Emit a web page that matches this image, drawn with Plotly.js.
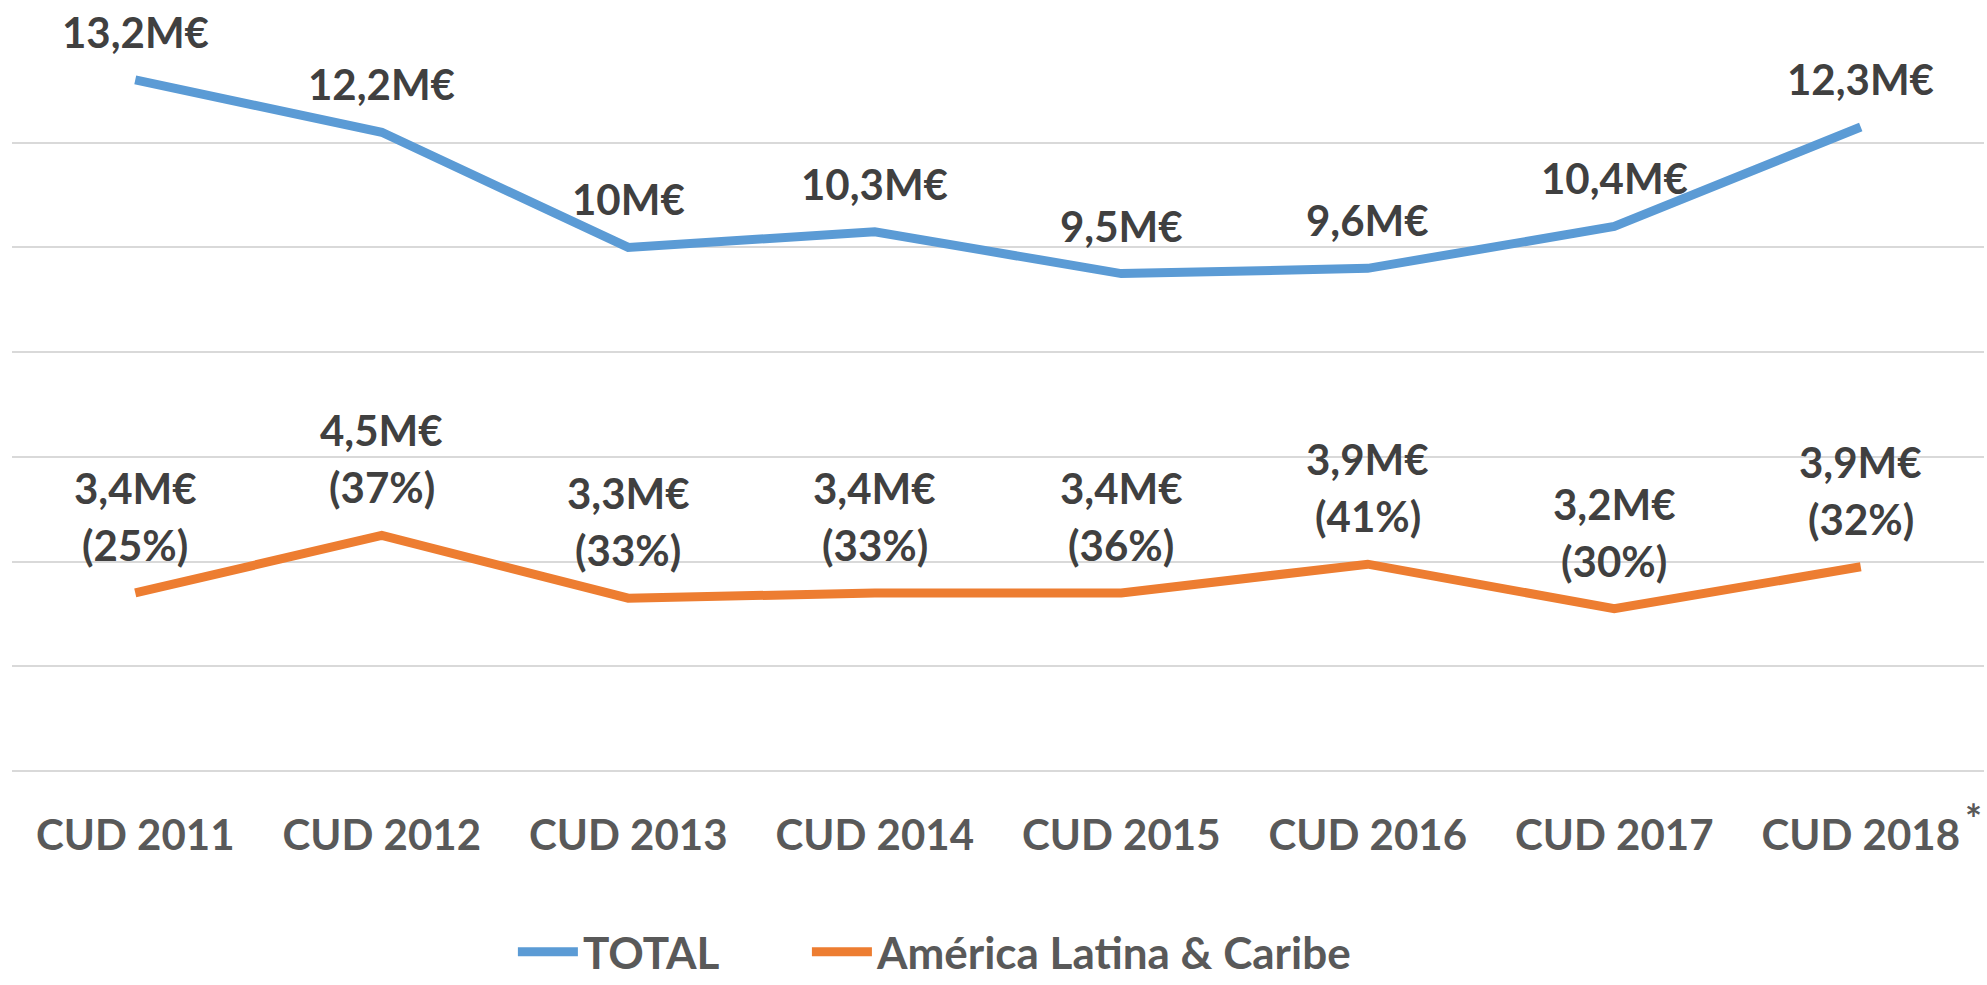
<!DOCTYPE html>
<html>
<head>
<meta charset="utf-8">
<script src="https://cdn.plot.ly/plotly-3.0.1.min.js"></script>
<style>
  html, body { margin: 0; padding: 0; background: #ffffff; }
  #chart { width: 1987px; height: 985px; }
</style>
</head>
<body>
<div id="chart"></div>
<script>
// ---- Data ----
const categories = ['CUD 2011', 'CUD 2012', 'CUD 2013', 'CUD 2014', 'CUD 2015', 'CUD 2016', 'CUD 2017', 'CUD 2018'];
const totalValues = [13.2, 12.2, 10.0, 10.3, 9.5, 9.6, 10.4, 12.3];
const latamValues = [3.4, 4.5, 3.3, 3.4, 3.4, 3.95, 3.1, 3.9];
const totalLabels = ['13,2M€', '12,2M€', '10M€', '10,3M€', '9,5M€', '9,6M€', '10,4M€', '12,3M€'];
const latamLabels = ['3,4M€', '4,5M€', '3,3M€', '3,4M€', '3,4M€', '3,9M€', '3,2M€', '3,9M€'];
const latamShares = ['(25%)', '(37%)', '(33%)', '(33%)', '(36%)', '(41%)', '(30%)', '(32%)'];
const seriesNames = ['TOTAL', 'América Latina & Caribe'];
const footnoteMark = '*';

const FONT = 'Lato, "Noto Sans", sans-serif';
const labelFont = { family: FONT, size: 42, color: '#404040', weight: 700 };
const legendFont = { family: FONT, size: 44, color: '#595959', weight: 700 };

const traces = [
  {
    x: categories, y: totalValues, name: seriesNames[0], type: 'scatter', mode: 'lines',
    line: { color: '#5B9BD5', width: 9 }, hoverinfo: 'skip', legend: 'legend'
  },
  {
    x: categories, y: latamValues, name: seriesNames[1], type: 'scatter', mode: 'lines',
    line: { color: '#ED7D31', width: 9 }, hoverinfo: 'skip', legend: 'legend2'
  }
];

const annotations = [];
categories.forEach((c, i) => {
  annotations.push({
    x: c, y: totalValues[i], xref: 'x', yref: 'y', text: totalLabels[i],
    showarrow: false, xanchor: 'center', yanchor: 'bottom', yshift: 21, font: labelFont
  });
  annotations.push({
    x: c, y: latamValues[i], xref: 'x', yref: 'y', text: latamShares[i],
    showarrow: false, xanchor: 'center', yanchor: 'bottom', yshift: 21, font: labelFont
  });
  annotations.push({
    x: c, y: latamValues[i], xref: 'x', yref: 'y', text: latamLabels[i],
    showarrow: false, xanchor: 'center', yanchor: 'bottom', yshift: 78, font: labelFont
  });
});
annotations.push({
  x: categories[categories.length - 1], y: 0, xref: 'x', yref: 'y', text: footnoteMark,
  showarrow: false, xanchor: 'left', yanchor: 'top', xshift: 102, yshift: -22,
  font: { family: FONT, size: 40, color: '#595959', weight: 700 }
});

const legendCommon = {
  orientation: 'h', xanchor: 'left', y: -0.247, yanchor: 'middle',
  font: legendFont, itemwidth: 60, bgcolor: 'rgba(0,0,0,0)', borderwidth: 0
};

const layout = {
  width: 1987, height: 985,
  margin: { l: 12, r: 3, t: 38, b: 214, pad: 0, autoexpand: false },
  paper_bgcolor: '#ffffff', plot_bgcolor: '#ffffff',
  showlegend: true,
  xaxis: {
    type: 'category', range: [-0.5, 7.5], showgrid: false, zeroline: false, showline: false,
    ticks: '', ticklabelstandoff: 36, automargin: false,
    tickfont: { family: FONT, size: 42, color: '#595959', weight: 700 }
  },
  yaxis: {
    range: [0, 14], dtick: 2, tick0: 0, showticklabels: false, ticks: '', automargin: false,
    showgrid: true, gridcolor: '#D9D9D9', gridwidth: 2,
    zeroline: true, zerolinecolor: '#D9D9D9', zerolinewidth: 2, showline: false
  },
  legend: Object.assign({}, legendCommon, { x: 0.254 }),
  legend2: Object.assign({}, legendCommon, { x: 0.4031 }),
  annotations: annotations
};

Plotly.newPlot('chart', traces, layout, { displayModeBar: false, staticPlot: true });
</script>
</body>
</html>
